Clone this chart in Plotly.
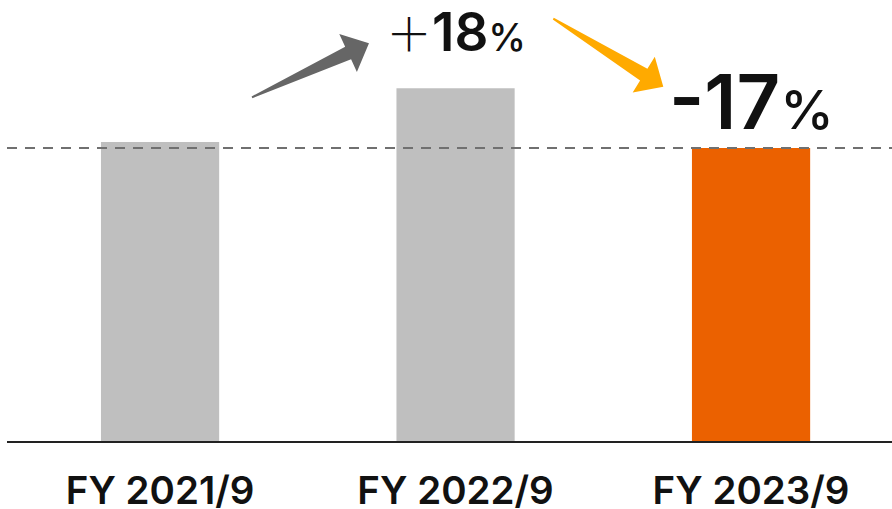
import math
import plotly.graph_objects as go

# Fiscal-year values (FY 2021/9 = 100)
categories = ["FY 2021/9", "FY 2022/9", "FY 2023/9"]
values = [100, 118, 98]
bar_colors = ["#bfbfbf", "#bfbfbf", "#eb6100"]

FONT = "Inter"
PLUS_FONT = "Noto Sans CJK JP"

fig = go.Figure()
fig.add_trace(go.Bar(
    x=categories, y=values, width=0.4,
    marker=dict(color=bar_colors, line=dict(width=0)),
    hoverinfo="skip",
))


def arrow_path(tail_dx, tail_dy, head_len, head_half, shaft_half, tail_half):
    """Tapered block arrow in pixels, tip at (0, 0), tail at (tail_dx, tail_dy)."""
    L = math.hypot(tail_dx, tail_dy)
    ux, uy = -tail_dx / L, -tail_dy / L          # direction tail -> tip
    nx, ny = -uy, ux                               # normal
    bx, by = -ux * head_len, -uy * head_len        # centre of the head base
    pts = [
        (tail_dx + nx * tail_half, tail_dy + ny * tail_half),
        (bx + nx * shaft_half, by + ny * shaft_half),
        (bx + nx * head_half, by + ny * head_half),
        (0, 0),
        (bx - nx * head_half, by - ny * head_half),
        (bx - nx * shaft_half, by - ny * shaft_half),
        (tail_dx - nx * tail_half, tail_dy - ny * tail_half),
    ]
    return "M " + " L ".join(f"{x:.1f},{y:.1f}" for x, y in pts) + " Z"


# Arrows: anchored at the tip (data coords), drawn in pixel offsets
arrows = [
    dict(anchor=(0.707, 133.0), tail=(-117, -54), color="#666666"),
    dict(anchor=(1.703, 118.5), tail=(-110, 68), color="#ffaa00"),
]
for a in arrows:
    fig.add_shape(
        type="path", xref="x", yref="y",
        xsizemode="pixel", ysizemode="pixel",
        xanchor=a["anchor"][0], yanchor=a["anchor"][1],
        path=arrow_path(*a["tail"], head_len=23, head_half=21, shaft_half=7, tail_half=1),
        fillcolor=a["color"], line=dict(width=0), layer="above",
    )

# Reference line at the latest year's level
fig.add_shape(
    type="line", xref="paper", yref="y", x0=0, x1=1, y0=values[2], y1=values[2],
    line=dict(color="#707070", width=2, dash="10px,8px"), layer="above",
)

fig.add_annotation(
    x=categories[1], y=values[1], xref="x", yref="y", yanchor="bottom",
    yshift=22, showarrow=False,
    text=(f"<span style='font-family:{PLUS_FONT};font-size:46px;font-weight:300'>＋</span>"
          "<span style='font-size:53px;font-weight:600'>18</span>"
          "<span style='font-size:38px;font-weight:500'>%</span>"),
    font=dict(family=FONT, color="#111111"),
)
fig.add_annotation(
    x=categories[2], y=values[2], xref="x", yref="y", yanchor="bottom",
    yshift=-1, showarrow=False,
    text=("<span style='font-size:76px;font-weight:600'>-17</span>"
          "<span style='font-size:54px;font-weight:500'>%</span>"),
    font=dict(family=FONT, color="#111111"),
)

fig.update_layout(
    width=892, height=509,
    margin=dict(l=7, r=0, t=0, b=68, autoexpand=False),
    paper_bgcolor="white", plot_bgcolor="white",
    showlegend=False,
    xaxis=dict(
        range=[-0.518, 2.477], showgrid=False, zeroline=False,
        showline=True, linecolor="#222222", linewidth=2,
        ticks="", ticklabelstandoff=15, automargin=False,
        tickfont=dict(family=FONT, size=38.5, color="#111111", weight=600),
    ),
    yaxis=dict(range=[0, 147.5], visible=False, automargin=False),
)

fig.write_html("out.html")
